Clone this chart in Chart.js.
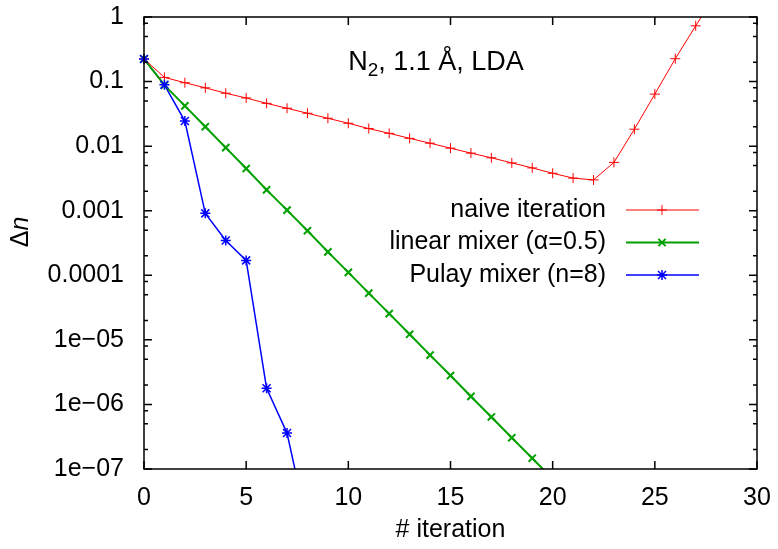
<!DOCTYPE html>
<html>
<head>
  <meta charset="utf-8">
  <title>Delta n vs iteration: N2, 1.1 A, LDA</title>
  <script src="https://cdn.jsdelivr.net/npm/chart.js"></script>
  <style>
    html, body { margin: 0; padding: 0; background: #fff; }
    #wrap { width: 778px; height: 549px; }
  </style>
</head>
<body>
  <div id="wrap"><canvas id="chart"></canvas></div>

  <script>
    // iteration number and density change for each mixer
    const naiveIter = [0, 1, 2, 3, 4, 5, 6, 7, 8, 9, 10, 11, 12, 13, 14, 15, 16, 17, 18, 19, 20, 21, 22, 23, 24, 25, 26, 27, 28];
    const naiveDn = [0.224, 0.116, 0.096, 0.080, 0.066, 0.0557, 0.046, 0.0386, 0.0323, 0.027, 0.0226,
                     0.0187, 0.0158, 0.0132, 0.0111, 0.0093, 0.0078, 0.0066, 0.0055, 0.0046, 0.0038,
                     0.0032, 0.0030, 0.0056, 0.0183, 0.064, 0.226, 0.73, 2.3];

    const linearIter = [0, 1, 2, 3, 4, 5, 6, 7, 8, 9, 10, 11, 12, 13, 14, 15, 16, 17, 18, 19, 20];
    const linearDn = [0.224, 0.088, 0.042, 0.020, 0.0095, 0.0045, 0.0021, 0.00102, 0.00049, 0.00023,
                      0.000111, 5.3e-5, 2.55e-5, 1.22e-5, 5.8e-6, 2.8e-6, 1.33e-6, 6.4e-7, 3.05e-7,
                      1.47e-7, 7e-8];

    const pulayIter = [0, 1, 2, 3, 4, 5, 6, 7, 8];
    const pulayDn = [0.224, 0.089, 0.0245, 0.00091, 0.000345, 0.00017, 1.78e-6, 3.6e-7, 1.3e-8];

    // axis ticks
    const xTickValues = [0, 5, 10, 15, 20, 25, 30];
    const yTickValues = [1, 0.1, 0.01, 0.001, 1e-4, 1e-5, 1e-6, 1e-7];
    const yTickLabels = ['1', '0.1', '0.01', '0.001', '0.0001', '1e\u221205', '1e\u221206', '1e\u221207'];
    const yMinorFactors = [2, 5, 8];

    const seriesLabels = ['naive iteration', 'linear mixer (\u03b1=0.5)', 'Pulay mixer (n=8)'];

    const FONT = "'Liberation Sans', Arial, Helvetica, sans-serif";
    const FSIZE = 25;
    const TSIZE = 27;

    const toPoints = (xs, ys) => xs.map((x, i) => ({ x: x, y: ys[i] }));

    const styles = [
      { color: '#ff0000', width: 1, point: 'cross', r: 5 },
      { color: '#00a000', width: 2, point: 'crossRot', r: 4.5 },
      { color: '#0000ff', width: 1.5, point: 'star', r: 5 }
    ];

    // draw a gnuplot style marker
    function mark(ctx, style, x, y, r, color, lw) {
      ctx.save();
      ctx.strokeStyle = color;
      ctx.lineWidth = lw;
      ctx.beginPath();
      if (style === 'cross' || style === 'star') {
        ctx.moveTo(x - r, y); ctx.lineTo(x + r, y);
        ctx.moveTo(x, y - r); ctx.lineTo(x, y + r);
      }
      if (style === 'crossRot' || style === 'star') {
        const d = r * 0.8;
        ctx.moveTo(x - d, y - d); ctx.lineTo(x + d, y + d);
        ctx.moveTo(x - d, y + d); ctx.lineTo(x + d, y - d);
      }
      ctx.stroke();
      ctx.restore();
    }

    const decorations = {
      id: 'decorations',
      afterDraw(chart) {
        const ctx = chart.ctx;
        const a = chart.chartArea;
        const xs = chart.scales.x, ys = chart.scales.y;
        ctx.save();

        // border box
        ctx.strokeStyle = '#000';
        ctx.lineWidth = 1.5;
        ctx.strokeRect(a.left, a.top, a.right - a.left, a.bottom - a.top);

        // ticks pointing inward on all four sides
        ctx.beginPath();
        xTickValues.forEach(v => {
          const px = xs.getPixelForValue(v);
          ctx.moveTo(px, a.bottom); ctx.lineTo(px, a.bottom - 8);
          ctx.moveTo(px, a.top); ctx.lineTo(px, a.top + 8);
        });
        yTickValues.forEach(v => {
          const py = ys.getPixelForValue(v);
          ctx.moveTo(a.left, py); ctx.lineTo(a.left + 8, py);
          ctx.moveTo(a.right, py); ctx.lineTo(a.right - 8, py);
          yMinorFactors.forEach(f => {
            const m = v * f;
            if (m > 1) return;
            const pm = ys.getPixelForValue(m);
            ctx.moveTo(a.left, pm); ctx.lineTo(a.left + 4, pm);
            ctx.moveTo(a.right, pm); ctx.lineTo(a.right - 4, pm);
          });
        });
        ctx.stroke();

        ctx.fillStyle = '#000';
        ctx.textBaseline = 'middle';

        // x title
        ctx.font = FSIZE + 'px ' + FONT;
        ctx.textAlign = 'center';
        ctx.fillText('# iteration', (a.left + a.right) / 2, 530);

        // y title: upright Delta, italic n
        ctx.save();
        ctx.translate(21, 232);
        ctx.rotate(-Math.PI / 2);
        ctx.font = FSIZE + 'px ' + FONT;
        const wD = ctx.measureText('\u0394').width;
        ctx.font = 'italic ' + FSIZE + 'px ' + FONT;
        const wN = ctx.measureText('n').width;
        ctx.textAlign = 'left';
        ctx.font = FSIZE + 'px ' + FONT;
        ctx.fillText('\u0394', -(wD + wN) / 2, 0);
        ctx.font = 'italic ' + FSIZE + 'px ' + FONT;
        ctx.fillText('n', -(wD + wN) / 2 + wD, 0);
        ctx.restore();

        // label inside plot: N2, 1.1 A, LDA
        const p1 = 'N', p2 = '2', p3 = ', 1.1 \u00c5, LDA';
        ctx.font = TSIZE + 'px ' + FONT;
        const w1 = ctx.measureText(p1).width, w3 = ctx.measureText(p3).width;
        ctx.font = (TSIZE * 0.7) + 'px ' + FONT;
        const w2 = ctx.measureText(p2).width;
        let tx = 436 - (w1 + w2 + w3) / 2;
        ctx.textAlign = 'left';
        ctx.font = TSIZE + 'px ' + FONT;
        ctx.fillText(p1, tx, 63);
        ctx.font = (TSIZE * 0.7) + 'px ' + FONT;
        ctx.fillText(p2, tx + w1, 71);
        ctx.font = TSIZE + 'px ' + FONT;
        ctx.fillText(p3, tx + w1 + w2, 63);

        // key
        const rows = [210, 242.5, 275];
        ctx.font = FSIZE + 'px ' + FONT;
        ctx.textAlign = 'right';
        seriesLabels.forEach((lab, i) => {
          const st = styles[i];
          ctx.fillStyle = '#000';
          ctx.fillText(lab, 606, rows[i]);
          ctx.strokeStyle = st.color;
          ctx.lineWidth = st.width;
          ctx.beginPath();
          ctx.moveTo(626, rows[i]); ctx.lineTo(699, rows[i]);
          ctx.stroke();
          mark(ctx, st.point, 662, rows[i], st.r, st.color, st.width);
        });

        ctx.restore();
      }
    };

    const markerPlugin = {
      id: 'markers',
      afterDatasetsDraw(chart) {
        const ctx = chart.ctx;
        const a = chart.chartArea;
        ctx.save();
        ctx.beginPath();
        ctx.rect(a.left - 10, a.top, a.right - a.left + 20, a.bottom - a.top);
        ctx.clip();
        chart.data.datasets.forEach((ds, i) => {
          const st = styles[i];
          chart.getDatasetMeta(i).data.forEach(el => {
            mark(ctx, st.point, el.x, el.y, st.r, st.color, st.width);
          });
        });
        ctx.restore();
      }
    };

    const datasets = [
      { data: toPoints(naiveIter, naiveDn) },
      { data: toPoints(linearIter, linearDn) },
      { data: toPoints(pulayIter, pulayDn) }
    ].map((d, i) => Object.assign(d, {
      label: seriesLabels[i],
      borderColor: styles[i].color,
      backgroundColor: styles[i].color,
      borderWidth: styles[i].width,
      pointRadius: 0,
      tension: 0,
      fill: false
    }));

    new Chart(document.getElementById('chart'), {
      type: 'line',
      data: { datasets: datasets },
      plugins: [markerPlugin, decorations],
      options: {
        responsive: true,
        maintainAspectRatio: false,
        animation: false,
        layout: { padding: { top: 17, right: 21, left: 0, bottom: 0 } },
        plugins: {
          legend: { display: false },
          tooltip: { enabled: false }
        },
        scales: {
          x: {
            type: 'linear',
            min: 0,
            max: 30,
            afterBuildTicks: s => { s.ticks = xTickValues.map(v => ({ value: v })); },
            afterFit: s => { s.height = 80; s.paddingLeft = 0; s.paddingRight = 0; },
            grid: { display: false, drawTicks: false },
            border: { display: false },
            ticks: {
              color: '#000',
              padding: 14,
              maxRotation: 0,
              font: { family: FONT, size: FSIZE }
            }
          },
          y: {
            type: 'logarithmic',
            min: 1e-7,
            max: 1,
            afterBuildTicks: s => { s.ticks = yTickValues.map(v => ({ value: v })); },
            afterFit: s => { s.width = 144; s.paddingTop = 0; s.paddingBottom = 0; },
            grid: { display: false, drawTicks: false },
            border: { display: false },
            ticks: {
              color: '#000',
              padding: 20,
              font: { family: FONT, size: FSIZE },
              callback: (v) => {
                const k = yTickValues.findIndex(t => Math.abs(Math.log10(t) - Math.log10(v)) < 1e-6);
                return k >= 0 ? yTickLabels[k] : '';
              }
            }
          }
        }
      }
    });
  </script>
</body>
</html>
